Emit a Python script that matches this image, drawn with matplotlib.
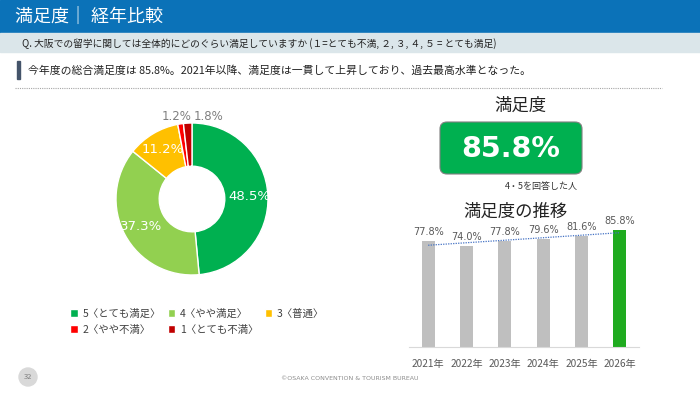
import numpy as np
import matplotlib
matplotlib.use("Agg")
import matplotlib.pyplot as plt
from matplotlib.patches import Rectangle, FancyBboxPatch, Circle

plt.rcParams['font.family'] = ['Noto Sans CJK JP', 'DejaVu Sans']

# donut data
pie_labels = ['5〈とても満足〉', '4〈やや満足〉', '3〈普通〉', '2〈やや不満〉', '1〈とても不満〉']
pie_values = [48.5, 37.3, 11.2, 1.2, 1.8]
pie_colors = ['#00b050', '#92d050', '#ffc000', '#ff0000', '#c00000']

# trend data
years = ['2021年', '2022年', '2023年', '2024年', '2025年', '2026年']
rates = [77.8, 74.0, 77.8, 79.6, 81.6, 85.8]
bar_colors = ['#bfbfbf'] * 5 + ['#1fab1f']

total_rate = '85.8%'

W, H = 700, 394
fig = plt.figure(figsize=(W / 100, H / 100), dpi=100)


def box(x0, y0, x1, y1):
    # pixel box (top-left origin) -> figure fraction
    return [x0 / W, 1 - y1 / H, (x1 - x0) / W, (y1 - y0) / H]


# background / decoration layer in pixel coordinates
bg = fig.add_axes([0, 0, 1, 1])
bg.set_xlim(0, W)
bg.set_ylim(H, 0)
bg.axis('off')

bg.add_patch(Rectangle((0, 0), W, 33, color='#0b72b8'))
bg.text(15, 17, '満足度｜ 経年比較', color='white', fontsize=13, va='center')
bg.add_patch(Rectangle((0, 33), W, 19, color='#dbe6ea'))
bg.text(22, 44, 'Q. 大阪での留学に関しては全体的にどのぐらい満足していますか (１=とても不満, ２, ３, ４, ５ = とても満足)',
        fontsize=7, va='center', color='#222222')
bg.add_patch(Rectangle((17, 61), 3, 18, color='#44546a'))
bg.text(28, 71, '今年度の総合満足度は 85.8%。2021年以降、満足度は一貫して上昇しており、過去最高水準となった。',
        fontsize=7.8, va='center', color='#222222')
bg.plot([15, 662], [88, 88], color='#a6a6a6', lw=0.8, ls=(0, (1, 1)))

# KPI card
bg.text(520, 106, '満足度', fontsize=12.5, ha='center', va='center', color='#222222')
bg.add_patch(FancyBboxPatch((440, 122), 142, 52, boxstyle='round,pad=0,rounding_size=7',
                            facecolor='#00b050', edgecolor='#7f7f7f', lw=0.8))
bg.text(511, 149, total_rate, fontsize=20.5, fontweight='bold', family='DejaVu Sans',
        color='white', ha='center', va='center')
bg.text(541, 186, '4・5を回答した人', fontsize=6.5, ha='center', va='center', color='#333333')
bg.text(516, 212, '満足度の推移', fontsize=12.5, ha='center', va='center', color='#222222')

# footer
bg.add_patch(Circle((28, 377), 9, color='#d9d9d9'))
bg.text(28, 377, '32', fontsize=5.5, ha='center', va='center', color='#7f7f7f')
bg.text(350, 378, '©OSAKA CONVENTION & TOURISM BUREAU', fontsize=4.5, ha='center',
        va='center', color='#8c8c8c', family='DejaVu Sans')

# donut
ax = fig.add_axes(box(112, 119, 272, 279))
wedges, _ = ax.pie(pie_values, colors=pie_colors, startangle=90, counterclock=False,
                   radius=0.95, wedgeprops=dict(width=0.54, edgecolor='white', linewidth=1))
ax.set_xlim(-1, 1)
ax.set_ylim(-1, 1)
ax.set_aspect('equal')
ax.axis('off')
start = 90
for i, (w, v) in enumerate(zip(wedges, pie_values)):
    mid = np.deg2rad(start - v * 3.6 / 2)
    start -= v * 3.6
    txt = f'{v:.1f}%'
    if v > 5:
        ax.text(0.72 * np.cos(mid), 0.72 * np.sin(mid), txt, color='white', fontsize=9.5,
                ha='center', va='center', family='DejaVu Sans')
    else:
        ha = 'right' if i == 3 else 'left'
        dx = -0.01 if i == 3 else 0.02
        ax.text(dx, 1.03, txt, color='#7f7f7f', fontsize=8.5, ha=ha, va='center',
                family='DejaVu Sans', clip_on=False)

order = [0, 3, 1, 4, 2]
fig.legend([wedges[i] for i in order], [pie_labels[i] for i in order], ncol=3,
           loc='upper left', bbox_to_anchor=(61 / W, 1 - 299 / H), frameon=False,
           fontsize=7.5, handlelength=0.7, handleheight=0.7, handletextpad=0.5,
           columnspacing=0.6, labelspacing=0.6, labelcolor='#404040')

# trend bars
bx = fig.add_axes(box(409, 211, 639, 347))
bx.patch.set_alpha(0)
x = np.arange(len(years))
bx.bar(x, rates, width=0.34, color=bar_colors)
for xi, r in zip(x, rates):
    bx.text(xi, r + 3, f'{r:.1f}%', ha='center', va='bottom', fontsize=7,
            color='#595959', family='DejaVu Sans')
k, b = np.polyfit(x, rates, 1)
bx.plot([x[0], x[-1]], [k * x[0] + b, k * x[-1] + b], color='#4472c4', lw=0.9, ls=(0, (1, 1)))
bx.set_xlim(-0.5, len(years) - 0.5)
bx.set_ylim(0, 100)
bx.set_xticks(x, years)
bx.tick_params(axis='x', length=0, labelsize=7.3, labelcolor='#595959', pad=9)
bx.set_yticks([])
for s in ['top', 'right', 'left']:
    bx.spines[s].set_visible(False)
bx.spines['bottom'].set_color('#d9d9d9')

fig.savefig('out.png', dpi=100)
